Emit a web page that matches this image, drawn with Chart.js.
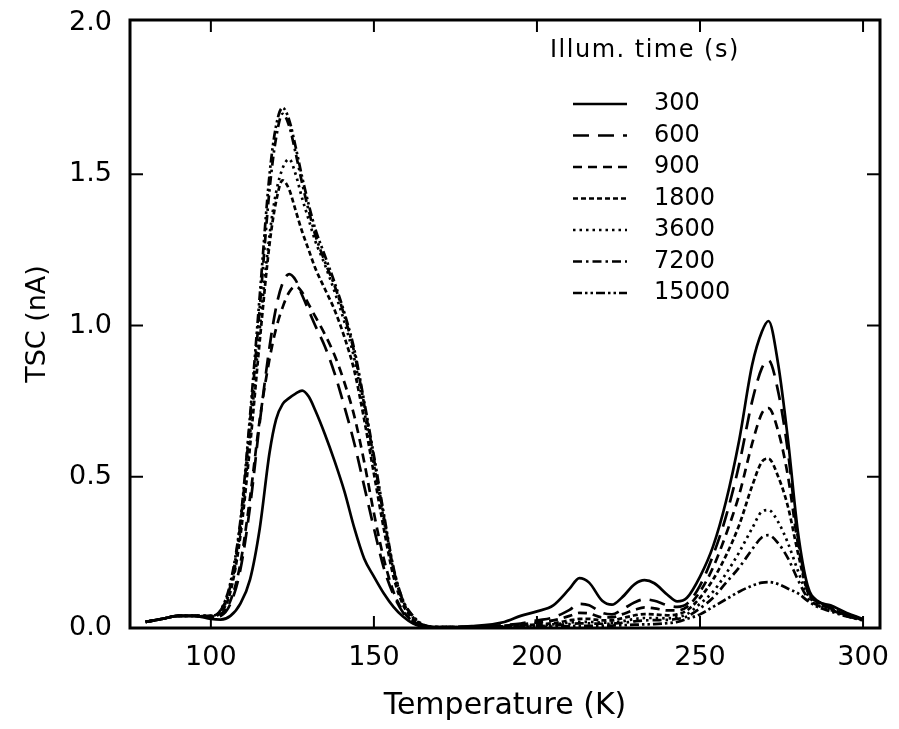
<!DOCTYPE html>
<html>
<head>
<meta charset="utf-8">
<script src="https://cdn.jsdelivr.net/npm/chart.js@4.4.1/dist/chart.umd.min.js"></script>
<style>
  html, body { margin: 0; padding: 0; background: #fff; }
  #wrap { width: 899px; height: 729px; }
</style>
</head>
<body>
<div id="wrap"><canvas id="tsc" width="899" height="729"></canvas></div>
<script>
// temperature grid (K)
const temps = [80, 85, 90, 95, 100, 103, 106, 109, 112, 115, 118, 120, 122, 124, 126, 128, 130, 132, 135, 138,
  141, 144, 147, 150, 153, 156, 159, 162, 165, 170, 180, 190, 195, 200, 205, 210, 213, 216, 220, 223,
  226, 230, 233, 236, 240, 243, 246, 250, 254, 258, 262, 266, 269, 271, 274, 277, 280, 283, 286, 290, 295, 300];

// TSC (nA) for each illumination time
const tsc300 = [0.02, 0.03, 0.04, 0.04, 0.03, 0.028, 0.04, 0.08, 0.16, 0.33, 0.58, 0.69, 0.74, 0.76, 0.775, 0.785, 0.765, 0.72, 0.64, 0.55,
  0.45, 0.33, 0.23, 0.17, 0.115, 0.07, 0.037, 0.015, 0.005, 0.002, 0.006, 0.02, 0.04, 0.055, 0.075, 0.13, 0.165, 0.15, 0.09, 0.077,
  0.10, 0.145, 0.158, 0.148, 0.11, 0.088, 0.10, 0.17, 0.27, 0.42, 0.62, 0.87, 0.98, 1.015, 0.87, 0.62, 0.32, 0.14, 0.09, 0.075, 0.05, 0.03];
const tsc600 = [0.02, 0.03, 0.04, 0.04, 0.035, 0.04, 0.08, 0.19, 0.40, 0.68, 0.93, 1.06, 1.14, 1.17, 1.15, 1.10, 1.05, 1.00, 0.93, 0.84,
  0.73, 0.61, 0.47, 0.33, 0.20, 0.11, 0.05, 0.02, 0.008, 0.003, 0.004, 0.01, 0.015, 0.025, 0.035, 0.06, 0.08, 0.075, 0.05, 0.045,
  0.06, 0.085, 0.095, 0.09, 0.075, 0.07, 0.08, 0.14, 0.24, 0.37, 0.54, 0.75, 0.86, 0.885, 0.78, 0.58, 0.30, 0.13, 0.09, 0.07, 0.045, 0.03];
const tsc900 = [0.02, 0.03, 0.04, 0.04, 0.035, 0.045, 0.09, 0.21, 0.43, 0.69, 0.89, 0.99, 1.06, 1.11, 1.13, 1.11, 1.07, 1.03, 0.97, 0.90,
  0.81, 0.70, 0.55, 0.38, 0.23, 0.12, 0.055, 0.022, 0.008, 0.003, 0.004, 0.008, 0.012, 0.018, 0.025, 0.04, 0.05, 0.048, 0.035, 0.035,
  0.045, 0.06, 0.068, 0.065, 0.058, 0.058, 0.07, 0.12, 0.20, 0.31, 0.44, 0.61, 0.71, 0.727, 0.65, 0.50, 0.28, 0.125, 0.085, 0.065, 0.042, 0.028];
const tsc1800 = [0.02, 0.03, 0.04, 0.04, 0.038, 0.05, 0.12, 0.30, 0.60, 0.95, 1.27, 1.41, 1.48, 1.45, 1.38, 1.31, 1.25, 1.19, 1.12, 1.05,
  0.96, 0.85, 0.69, 0.51, 0.33, 0.17, 0.075, 0.03, 0.01, 0.003, 0.003, 0.006, 0.008, 0.012, 0.016, 0.025, 0.03, 0.03, 0.025, 0.025,
  0.032, 0.042, 0.046, 0.045, 0.042, 0.045, 0.058, 0.10, 0.16, 0.24, 0.34, 0.47, 0.55, 0.56, 0.50, 0.40, 0.25, 0.12, 0.085, 0.065, 0.042, 0.028];
const tsc3600 = [0.02, 0.03, 0.04, 0.04, 0.04, 0.055, 0.13, 0.32, 0.64, 0.99, 1.30, 1.44, 1.52, 1.55, 1.50, 1.42, 1.35, 1.28, 1.20, 1.11,
  1.01, 0.89, 0.72, 0.54, 0.36, 0.19, 0.085, 0.035, 0.01, 0.003, 0.003, 0.005, 0.006, 0.008, 0.012, 0.018, 0.02, 0.02, 0.018, 0.018,
  0.022, 0.03, 0.033, 0.033, 0.032, 0.036, 0.046, 0.08, 0.12, 0.18, 0.25, 0.33, 0.385, 0.39, 0.35, 0.28, 0.19, 0.11, 0.08, 0.062, 0.04, 0.027];
const tsc7200 = [0.02, 0.03, 0.04, 0.04, 0.04, 0.058, 0.14, 0.34, 0.68, 1.06, 1.45, 1.62, 1.70, 1.66, 1.57, 1.47, 1.38, 1.30, 1.21, 1.13,
  1.03, 0.91, 0.74, 0.56, 0.37, 0.195, 0.088, 0.038, 0.01, 0.003, 0.003, 0.004, 0.005, 0.006, 0.009, 0.013, 0.015, 0.015, 0.014, 0.014,
  0.017, 0.022, 0.025, 0.026, 0.027, 0.03, 0.038, 0.065, 0.10, 0.15, 0.20, 0.26, 0.30, 0.307, 0.28, 0.23, 0.16, 0.10, 0.075, 0.06, 0.04, 0.026];
const tsc15000 = [0.02, 0.03, 0.04, 0.04, 0.04, 0.06, 0.15, 0.35, 0.70, 1.10, 1.50, 1.66, 1.72, 1.68, 1.59, 1.49, 1.40, 1.32, 1.23, 1.14,
  1.04, 0.92, 0.75, 0.57, 0.38, 0.20, 0.09, 0.04, 0.012, 0.003, 0.003, 0.003, 0.004, 0.004, 0.005, 0.006, 0.007, 0.007, 0.007, 0.008,
  0.009, 0.011, 0.012, 0.013, 0.016, 0.02, 0.03, 0.045, 0.07, 0.095, 0.12, 0.14, 0.15, 0.152, 0.145, 0.13, 0.115, 0.09, 0.07, 0.055, 0.038, 0.025];

const illumTimes = ['300', '600', '900', '1800', '3600', '7200', '15000'];
const seriesValues = [tsc300, tsc600, tsc900, tsc1800, tsc3600, tsc7200, tsc15000];
const xTicks = [100, 150, 200, 250, 300];
const yTicks = [0, 0.5, 1.0, 1.5, 2.0];

const dashes = [[], [16, 9], [9, 6], [5, 3], [2.5, 4], [9, 4, 2.5, 4], [9, 3, 2.5, 3, 2.5, 3]];
const FONT = '"DejaVu Sans", sans-serif';

const datasets = seriesValues.map((vals, i) => ({
  label: illumTimes[i],
  data: temps.map((t, k) => ({ x: t, y: vals[k] })),
  borderColor: '#000',
  borderWidth: 2.7,
  borderDash: dashes[i],
  pointRadius: 0,
  fill: false,
  cubicInterpolationMode: 'monotone'
}));

// box, inward ticks and the line-style key
const framePlugin = {
  id: 'frame',
  afterDatasetsDraw(chart) {
    const { ctx, chartArea: a, scales: { x, y } } = chart;
    const seg = (x1, y1, x2, y2) => { ctx.beginPath(); ctx.moveTo(x1, y1); ctx.lineTo(x2, y2); ctx.stroke(); };
    ctx.save();
    ctx.strokeStyle = '#000';
    ctx.setLineDash([]);
    ctx.lineWidth = 3;
    ctx.strokeRect(a.left, a.top, a.right - a.left, a.bottom - a.top);
    ctx.lineWidth = 2;
    xTicks.forEach(v => {
      const px = x.getPixelForValue(v);
      seg(px, a.bottom, px, a.bottom - 12);
      seg(px, a.top, px, a.top + 12);
    });
    yTicks.forEach(v => {
      if (v <= 0 || v >= 2) return;
      const py = y.getPixelForValue(v);
      seg(a.left, py, a.left + 13, py);
      seg(a.right, py, a.right - 13, py);
    });

    ctx.fillStyle = '#000';
    ctx.textAlign = 'left';
    ctx.font = '24px ' + FONT;
    ctx.letterSpacing = '1.5px';
    ctx.textBaseline = 'alphabetic';
    ctx.fillText('Illum. time (s)', 550, 57);
    ctx.letterSpacing = '0px';
    ctx.textBaseline = 'middle';
    illumTimes.forEach((lab, i) => {
      const yy = 104 + i * 31.5;
      ctx.lineWidth = 2.7;
      ctx.setLineDash(dashes[i]);
      seg(573, yy, 627, yy);
      ctx.setLineDash([]);
      ctx.fillText(lab, 654, yy);
    });
    ctx.restore();
  }
};

new Chart(document.getElementById('tsc'), {
  type: 'line',
  data: { datasets },
  options: {
    responsive: false,
    animation: false,
    layout: { padding: { left: 0, right: 19, top: 20, bottom: 0 } },
    plugins: { legend: { display: false }, tooltip: { enabled: false } },
    scales: {
      x: {
        type: 'linear',
        min: 75.2,
        max: 305.2,
        afterBuildTicks: s => { s.ticks = xTicks.map(v => ({ value: v })); },
        afterFit: s => { s.height = 101; s.paddingLeft = 0; s.paddingRight = 0; },
        grid: { display: false, drawTicks: false },
        border: { display: false },
        ticks: { color: '#000', font: { family: FONT, size: 27 }, padding: 14, maxRotation: 0 },
        title: { display: true, text: 'Temperature (K)', color: '#000', font: { family: FONT, size: 30 }, padding: { top: 0, bottom: 5 } }
      },
      y: {
        type: 'linear',
        min: 0,
        max: 2.01,
        afterBuildTicks: s => { s.ticks = yTicks.map(v => ({ value: v })); },
        afterFit: s => { s.width = 130; s.paddingTop = 0; s.paddingBottom = 0; },
        grid: { display: false, drawTicks: false },
        border: { display: false },
        ticks: { color: '#000', font: { family: FONT, size: 27 }, padding: 18, callback: v => v.toFixed(1) },
        title: { display: true, text: 'TSC (nA)', color: '#000', font: { family: FONT, size: 27 }, padding: { top: 22, bottom: 0 } }
      }
    }
  },
  plugins: [framePlugin]
});
</script>
</body>
</html>
